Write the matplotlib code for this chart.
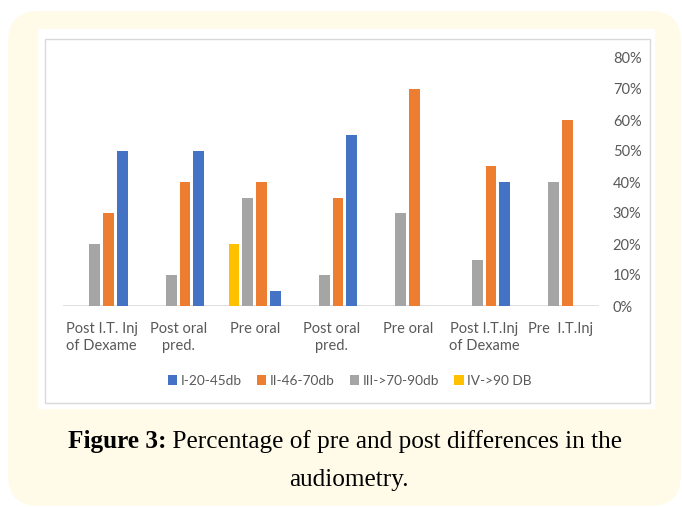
import matplotlib
matplotlib.use("Agg")
import matplotlib.pyplot as plt
from matplotlib.patches import FancyBboxPatch, Rectangle, Patch
from matplotlib.ticker import FuncFormatter
import numpy as np

categories = ["Post I.T. Inj\nof Dexame", "Post oral\npred.", "Pre oral",
              "Post oral\npred.", "Pre oral", "Post I.T.Inj\nof Dexame", "Pre  I.T.Inj"]
series_names = ["I-20-45db", "II-46-70db", "III->70-90db", "IV->90 DB"]
grade_I = [0.50, 0.50, 0.05, 0.55, 0.00, 0.40, 0.00]
grade_II = [0.30, 0.40, 0.40, 0.35, 0.70, 0.45, 0.60]
grade_III = [0.20, 0.10, 0.35, 0.10, 0.30, 0.15, 0.40]
grade_IV = [0.00, 0.00, 0.20, 0.00, 0.00, 0.00, 0.00]
colors = ["#4472C4", "#ED7D31", "#A5A5A5", "#FFC000"]
yticks = [0.0, 0.1, 0.2, 0.3, 0.4, 0.5, 0.6, 0.7, 0.8]

W, H = 682, 507
fig = plt.figure(figsize=(W / 100, H / 100), dpi=100)
fig.patch.set_facecolor("white")

def px_rect(x0, y0, x1, y1):
    return (x0 / W, 1 - y1 / H, (x1 - x0) / W, (y1 - y0) / H)

# cream rounded box
x, y, w, h = px_rect(8, 11, 681, 506)
fig.patches.append(FancyBboxPatch((x, y), w, h,
                                  boxstyle="round,pad=0,rounding_size=0.045",
                                  mutation_aspect=W / H,
                                  transform=fig.transFigure, facecolor="#FFFBE8",
                                  edgecolor="none", zorder=-3))
x, y, w, h = px_rect(38, 29, 655, 409)
fig.patches.append(Rectangle((x, y), w, h, transform=fig.transFigure,
                             facecolor="white", edgecolor="none", zorder=-2))
x, y, w, h = px_rect(45, 39, 650, 403)
fig.patches.append(Rectangle((x, y), w, h, transform=fig.transFigure,
                             facecolor="none", edgecolor="#D9D9D9", lw=1.0, zorder=-1))

label_font = ["Lato", "DejaVu Sans"]
ax = fig.add_axes(px_rect(63.4, 58, 598.9, 306))
ax.set_zorder(5)
ax.set_facecolor("none")
xpos = np.arange(len(categories))
slot = 0.179
bw = 0.14
series = [grade_IV, grade_III, grade_II, grade_I]
cols = [colors[3], colors[2], colors[1], colors[0]]
for k, (vals, c) in enumerate(zip(series, cols)):
    ax.bar(xpos + (k - 1.5) * slot, vals, width=bw, color=c, zorder=3)

ax.set_xlim(-0.5, len(categories) - 0.5)
ax.set_ylim(0, 0.8)
ax.axhline(0, color="#D9D9D9", lw=1.2, zorder=2)
for s in ax.spines.values():
    s.set_visible(False)
ax.set_xticks(xpos)
ax.set_xticklabels(categories, family=label_font, fontsize=10.5, color="#595959",
                   linespacing=1.25)
ax.tick_params(axis="x", length=0, pad=11.5)
ax.yaxis.tick_right()
ax.set_yticks(yticks)
ax.yaxis.set_major_formatter(FuncFormatter(lambda v, p: f"{v*100:.0f}%"))
ax.tick_params(axis="y", length=0, pad=10, labelsize=10.5, labelcolor="#595959")
for t in ax.get_yticklabels():
    t.set_family(label_font)

handles = [Patch(facecolor=c, edgecolor="none") for c in colors]
leg = fig.legend(handles, series_names, loc="center", ncol=4, frameon=False,
                 bbox_to_anchor=(349.7 / W, 1 - 381 / H),
                 handlelength=0.7, handleheight=0.7, handletextpad=0.25,
                 columnspacing=1.1, prop={"family": label_font, "size": 9.8})
for t in leg.get_texts():
    t.set_color("#595959")

# caption
cap_font = "Liberation Serif"
cap_size = 18.2
renderer = fig.canvas.get_renderer()
t1 = fig.text(0, 0, "Figure 3:", fontsize=cap_size, family=cap_font,
              fontweight="bold", color="black", va="baseline")
t2 = fig.text(0, 0, " Percentage of pre and post differences in the",
              fontsize=cap_size, family=cap_font, color="black", va="baseline")
b1 = t1.get_window_extent(renderer)
b2 = t2.get_window_extent(renderer)
total = b1.width + b2.width
x0 = (W - total) / 2 + 4
base1 = 1 - 448 / H
t1.set_position((x0 / W, base1))
t2.set_position(((x0 + b1.width) / W, base1))
fig.text(349 / W, 1 - 486 / H, "audiometry.", fontsize=cap_size, family=cap_font,
         color="black", ha="center", va="baseline")

fig.savefig("out.png", dpi=100, facecolor="white")
